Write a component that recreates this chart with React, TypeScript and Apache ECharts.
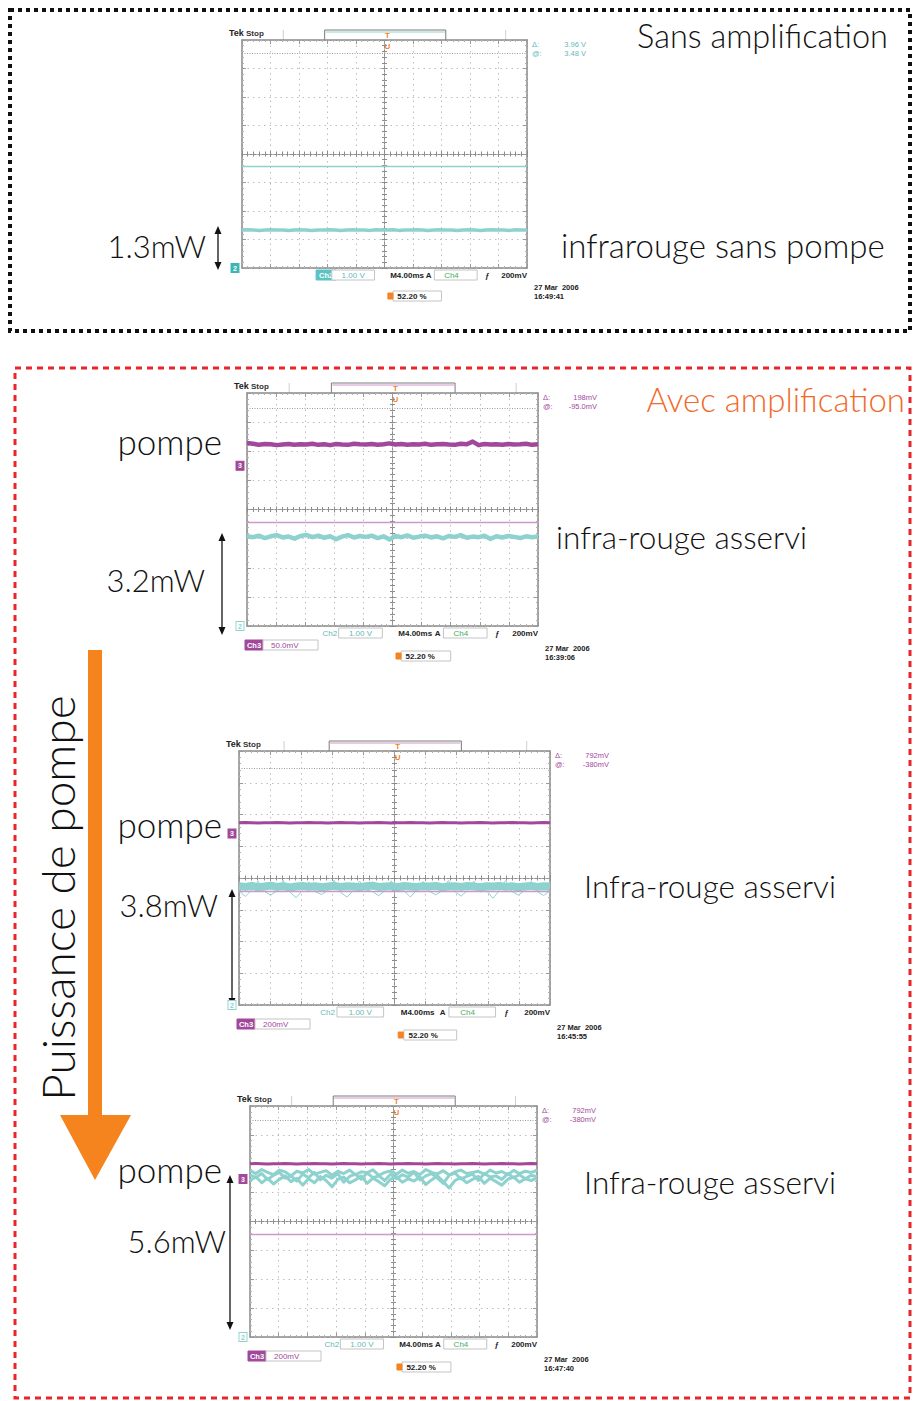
import React, { useEffect, useRef } from "react";
import * as echarts from "echarts";

// ---------- data (in screen divisions, 0 = bottom of the screen) ----------
const ch2Scope1 = [1.33,1.34,1.33,1.32,1.33,1.34,1.33,1.33,1.32,1.33,1.34,1.33,1.32,1.33,1.33,1.34,1.33,1.32,1.33,1.34,1.33,1.33,1.32,1.34,1.33,1.33,1.34,1.32,1.33,1.33,1.34,1.33,1.32,1.33,1.34,1.33,1.33,1.32,1.33,1.34,1.33,1.32,1.33,1.34,1.33,1.33,1.32,1.34,1.33,1.33];

const ch3Scope2 = [6.28,6.26,6.22,6.25,6.24,6.21,6.23,6.25,6.22,6.24,6.23,6.26,6.22,6.24,6.21,6.25,6.23,6.22,6.26,6.24,6.23,6.25,6.22,6.24,6.27,6.23,6.25,6.22,6.24,6.23,6.26,6.22,6.24,6.25,6.23,6.22,6.26,6.24,6.33,6.21,6.25,6.23,6.24,6.22,6.25,6.23,6.24,6.26,6.22,6.24];
const ch2Scope2 = [3.08,3.05,3.1,3.02,3.08,3.12,3.04,3.07,3.0,3.09,3.13,3.05,3.1,3.03,3.08,2.98,3.07,3.12,3.04,3.09,3.06,3.1,3.02,3.08,2.97,3.09,3.05,3.11,3.03,3.07,3.1,3.04,3.08,3.01,3.09,3.06,3.12,3.03,3.07,3.05,3.1,2.99,3.08,3.04,3.09,3.06,3.02,3.08,3.05,3.07];

const ch3Scope3 = [5.74,5.75,5.74,5.73,5.74,5.74,5.75,5.74,5.73,5.74,5.74,5.75,5.74,5.74,5.73,5.74,5.75,5.74,5.74,5.73,5.74,5.74,5.75,5.74,5.73,5.74,5.74,5.75,5.74,5.74,5.73,5.74,5.75,5.74,5.74,5.73,5.74,5.74,5.75,5.74,5.73,5.74,5.74,5.75,5.74,5.74,5.73,5.74,5.75,5.74];
const ch2Scope3 = [3.74,3.72,3.75,3.71,3.73,3.76,3.72,3.74,3.7,3.73,3.75,3.72,3.74,3.71,3.73,3.75,3.72,3.74,3.73,3.71,3.74,3.76,3.72,3.73,3.74,3.71,3.75,3.73,3.72,3.74,3.73,3.75,3.71,3.73,3.74,3.72,3.75,3.73,3.71,3.74,3.73,3.75,3.72,3.74,3.71,3.73,3.75,3.72,3.74,3.73];
const ch2Scope3Fringe = [3.6,3.42,3.62,3.9,3.58,3.46,3.6,3.92,3.56,3.38,3.61,3.88,3.57,3.48,3.6,3.93,3.55,3.4,3.6,3.9,3.62,3.58,3.44,3.6,3.91,3.57,3.6,3.4,3.62,3.89,3.58,3.47,3.6,3.92,3.57,3.43,3.61,3.9,3.56,3.6,3.36,3.6,3.92,3.58,3.46,3.6,3.89,3.57,3.45,3.6];

const ch3Scope4 = [6.0,6.01,6.0,5.99,6.0,6.0,6.01,6.0,5.99,6.0,6.0,6.01,6.0,6.0,5.99,6.0,6.01,6.0,6.0,5.99,6.0,6.0,6.01,6.0,5.99,6.0,6.0,6.01,6.0,6.0,5.99,6.0,6.01,6.0,6.0,5.99,6.0,6.0,6.01,6.0,5.99,6.0,6.0,6.01,6.0,6.0,5.99,6.0,6.01,6.0];
const ch2Scope4a = [5.62,5.52,5.66,5.45,5.6,5.7,5.5,5.58,5.4,5.64,5.52,5.7,5.44,5.6,5.5,5.66,5.36,5.56,5.64,5.46,5.68,5.52,5.58,5.42,5.64,5.48,5.62,5.54,5.7,5.44,5.58,5.66,5.5,5.32,5.6,5.68,5.47,5.56,5.64,5.42,5.66,5.54,5.58,5.46,5.66,5.52,5.62,5.48,5.6,5.55];
const ch2Scope4b = [5.42,5.55,5.34,5.5,5.3,5.46,5.58,5.38,5.5,5.26,5.48,5.34,5.56,5.42,5.2,5.46,5.54,5.34,5.44,5.58,5.32,5.5,5.38,5.24,5.46,5.56,5.36,5.48,5.4,5.54,5.28,5.44,5.58,5.38,5.16,5.42,5.52,5.34,5.46,5.56,5.32,5.5,5.38,5.26,5.46,5.54,5.36,5.48,5.42,5.5];
const ch2Scope4c = [5.76,5.66,5.8,5.7,5.62,5.78,5.72,5.58,5.74,5.68,5.8,5.64,5.7,5.76,5.6,5.74,5.66,5.78,5.62,5.72,5.69,5.79,5.6,5.7,5.75,5.64,5.78,5.67,5.73,5.62,5.8,5.7,5.65,5.76,5.61,5.72,5.78,5.66,5.7,5.74,5.63,5.78,5.68,5.73,5.62,5.77,5.66,5.74,5.7,5.76];

const cursorSolid = [3.58, 3.55, 3.59, 3.56];
const cursorDotted = [7.54, 7.49, 7.46, 7.5];
const ch3Ground = [null, 5.5, 5.4, 5.47];
const deltaReadout = ["3.96 V", "198mV", "792mV", "792mV"];
const atReadout = ["3.48 V", "-95.0mV", "-380mV", "-380mV"];
const ch3Scale = [null, "50.0mV", "200mV", "200mV"];
const timestamps = ["16:49:41", "16:39:06", "16:45:55", "16:47:40"];
const powerLabels = ["1.3mW", "3.2mW", "3.8mW", "5.6mW"];
const signalLabels = ["infrarouge sans pompe", "infra-rouge asservi", "Infra-rouge asservi", "Infra-rouge asservi"];

// ---------- layout ----------
const screens = [
  [242, 40, 285, 228],
  [247, 393, 291, 233],
  [239, 751, 311, 254],
  [250, 1106, 287, 231],
];
const CYAN = "#8ed2cf";
const CYAN_TXT = "#5fb9bb";
const MAG = "#a2489b";
const MAG_LIGHT = "#cf98ca";
const ORANGE = "#f5841f";
const GREEN = "#3fae5a";
const FONT = '"Lato", "Open Sans", sans-serif';
const SMALL = '"Liberation Sans", Arial, sans-serif';

function buildOption() {
  const grid: any[] = [];
  const xAxis: any[] = [];
  const yAxis: any[] = [];
  const series: any[] = [];
  const graphic: any[] = [];

  const cats = ch2Scope1.map((_, i) => i);

  screens.forEach(([l, t, w, h], i) => {
    grid.push({ left: l, top: t, width: w, height: h, show: false });
    const common = { gridIndex: i, type: "value", axisLabel: { show: false }, axisPointer: { show: false } };
    const borderLine = { onZero: false, lineStyle: { color: "#8a8a8a", width: 1.5 } };
    const centerLine = { onZero: false, lineStyle: { color: "#8c8c8c", width: 1, type: [2, 2] } };
    const tickIn = { show: true, inside: true, length: 4, lineStyle: { color: "#9a9a9a" } };
    const tickOut = { show: true, inside: false, length: 3, lineStyle: { color: "#8c8c8c" } };
    const minorIn = { show: true, splitNumber: 5, length: 2, lineStyle: { color: "#b0b0b0" } };
    const minorOut = { show: true, splitNumber: 5, length: 2.5, lineStyle: { color: "#8c8c8c" } };
    const dotted = { show: true, lineStyle: { color: "#bdbdbd", width: 1, type: [1.5, 4] } };
    xAxis.push({ gridIndex: i, type: "category", boundaryGap: false, data: cats, show: false, position: "bottom" });
    xAxis.push({ ...common, min: 0, max: 10, interval: 1, position: "bottom", axisLine: borderLine, axisTick: tickIn, minorTick: minorIn, splitLine: dotted });
    xAxis.push({ ...common, min: 0, max: 10, interval: 1, position: "top", axisLine: borderLine, axisTick: tickIn, minorTick: minorIn, splitLine: { show: false } });
    xAxis.push({ ...common, min: 0, max: 10, interval: 1, position: "bottom", offset: -h / 2, axisLine: centerLine, axisTick: tickOut, minorTick: minorOut, splitLine: { show: false } });
    xAxis.push({ ...common, min: 0, max: 10, interval: 1, position: "top", offset: -h / 2, axisLine: centerLine, axisTick: tickOut, minorTick: minorOut, splitLine: { show: false } });
    yAxis.push({ ...common, min: 0, max: 8, interval: 1, position: "left", axisLine: borderLine, axisTick: tickIn, minorTick: minorIn, splitLine: dotted });
    yAxis.push({ ...common, min: 0, max: 8, interval: 1, position: "right", axisLine: borderLine, axisTick: tickIn, minorTick: minorIn, splitLine: { show: false } });
    yAxis.push({ ...common, min: 0, max: 8, interval: 1, position: "left", offset: -w / 2, axisLine: centerLine, axisTick: tickOut, minorTick: minorOut, splitLine: { show: false } });
    yAxis.push({ ...common, min: 0, max: 8, interval: 1, position: "right", offset: -w / 2, axisLine: centerLine, axisTick: tickOut, minorTick: minorOut, splitLine: { show: false } });
  });

  const trace = (i: number, data: number[], color: string, width: number, extra: any = {}) => ({
    type: "line",
    xAxisIndex: i * 5,
    yAxisIndex: i * 4,
    data,
    showSymbol: false,
    symbol: "none",
    silent: true,
    lineStyle: { color, width, join: "round" },
    z: 3,
    ...extra,
  });
  const cursors = (i: number) => ({
    silent: true,
    symbol: "none",
    label: { show: false },
    data: [
      { yAxis: cursorSolid[i], lineStyle: { color: i === 0 ? CYAN : MAG_LIGHT, width: 1.3, type: "solid" } },
      { yAxis: cursorDotted[i], lineStyle: { color: "#9c9c9c", width: 1, type: [1, 1.5] } },
    ],
  });
  const groundMark = (ch: string, level: number, filled: boolean, color: string) => ({
    coord: [0, level],
    symbol: "rect",
    symbolSize: [8, 9],
    symbolOffset: [-7, 0],
    itemStyle: { color: filled ? color : "#fff", borderColor: color, borderWidth: 1 },
    label: { show: true, formatter: ch, color: filled ? "#fff" : color, fontSize: 7, fontWeight: "bold", fontFamily: SMALL },
  });
  const ch2Marker = (i: number) => ({ silent: true, data: [groundMark("2", 0, i === 0, i === 0 ? "#3fb5b5" : CYAN)] });
  const ch3Marker = (i: number) => ({ silent: true, data: [groundMark("3", ch3Ground[i] as number, true, MAG)] });

  series.push(trace(0, ch2Scope1, CYAN, 3.5, { markLine: cursors(0), markPoint: ch2Marker(0) }));
  series.push(trace(1, ch2Scope2, CYAN, 4.5, { markLine: cursors(1), markPoint: ch2Marker(1) }));
  series.push(trace(1, ch3Scope2, MAG, 4.5, { markPoint: ch3Marker(1) }));
  series.push(trace(2, ch2Scope3Fringe, CYAN, 1, { markLine: cursors(2), markPoint: ch2Marker(2) }));
  series.push(trace(2, ch2Scope3, CYAN, 8));
  series.push(trace(2, ch3Scope3, MAG, 3, { markPoint: ch3Marker(2) }));
  series.push(trace(3, ch2Scope4b, CYAN, 3, { markLine: cursors(3), markPoint: ch2Marker(3) }));
  series.push(trace(3, ch2Scope4a, CYAN, 3));
  series.push(trace(3, ch2Scope4c, CYAN, 3));
  series.push(trace(3, ch3Scope4, MAG, 3, { markPoint: ch3Marker(3) }));

  // ---------- oscilloscope chrome ----------
  const txt = (x: number, y: number, text: string, fill: string, size = 8, weight = "bold", align = "left") => ({
    type: "text", x, y, silent: true,
    style: { text, fill, fontSize: size, fontWeight: weight, fontFamily: SMALL, align, verticalAlign: "middle" },
  });
  const box = (x: number, y: number, bw: number, bh: number, fill = "#fff", stroke = "#c4c4c4") => ({
    type: "rect", silent: true, shape: { x, y, width: bw, height: bh }, style: { fill, stroke, lineWidth: 1 },
  });

  screens.forEach(([l, t, w, h], i) => {
    const rc = i === 0 ? CYAN_TXT : MAG;
    const tcol = i === 0 ? CYAN : MAG_LIGHT;
    graphic.push(txt(l - 13, t - 7, "Tek", "#222", 9, "bold"));
    graphic.push(txt(l + 4, t - 7, "Stop", "#333", 8, "bold"));
    [0.145, 0.925].forEach((f) =>
      graphic.push({ type: "line", silent: true, shape: { x1: l + f * w, y1: t - 10, x2: l + f * w, y2: t }, style: { stroke: "#cfcfcf", lineWidth: 1 } })
    );
    const bx1 = l + 0.29 * w, bx2 = l + 0.715 * w;
    graphic.push({ type: "polyline", silent: true, shape: { points: [[bx1, t], [bx1, t - 10], [bx2, t - 10], [bx2, t]] }, style: { stroke: "#7a7a7a", fill: null, lineWidth: 1 } });
    graphic.push({ type: "line", silent: true, shape: { x1: bx1 + 1, y1: t - 8, x2: bx2 - 1, y2: t - 8 }, style: { stroke: tcol, lineWidth: 1 } });
    const tx = l + 0.51 * w;
    graphic.push(txt(tx, t - 5, "T", ORANGE, 8, "bold", "center"));
    graphic.push(txt(tx, t + 6, "U", ORANGE, 8, "bold", "center"));
    graphic.push(txt(l + w + 5, t + 4, "Δ:", rc, 7.5, "normal"));
    graphic.push(txt(l + w + 59, t + 4, deltaReadout[i], rc, 7.5, "normal", "right"));
    graphic.push(txt(l + w + 5, t + 13, "@:", rc, 7.5, "normal"));
    graphic.push(txt(l + w + 59, t + 13, atReadout[i], rc, 7.5, "normal", "right"));
    const by = t + h + 7;
    if (i === 0) {
      graphic.push(box(l + 0.26 * w, by - 5, 0.07 * w, 10, "#5cc2c2", "#5cc2c2"));
      graphic.push(txt(l + 0.295 * w, by, "Ch2", "#fff", 7.5, "bold", "center"));
    } else {
      graphic.push(txt(l + 0.285 * w, by, "Ch2", CYAN_TXT, 8, "normal", "center"));
    }
    graphic.push(box(l + 0.315 * w, by - 5, 0.15 * w, 10));
    graphic.push(txt(l + 0.39 * w, by, "1.00 V", CYAN_TXT, 8, "normal", "center"));
    graphic.push(txt(l + 0.52 * w, by, "M4.00ms", "#222", 8, "bold"));
    graphic.push(txt(l + 0.655 * w, by, "A", "#222", 8, "bold", "center"));
    graphic.push(box(l + 0.675 * w, by - 5, 0.15 * w, 10));
    graphic.push(txt(l + 0.735 * w, by, "Ch4", GREEN, 8, "normal", "center"));
    graphic.push(txt(l + 0.86 * w, by, "ƒ", "#222", 8, "bold", "center"));
    graphic.push(txt(l + w, by, "200mV", "#222", 8, "bold", "right"));
    if (ch3Scale[i]) {
      const cy = t + h + 19;
      graphic.push(box(l - 2, cy - 5, 18, 10, MAG, MAG));
      graphic.push(txt(l + 7, cy, "Ch3", "#fff", 7.5, "bold", "center"));
      graphic.push(box(l + 16, cy - 5, 55, 10));
      graphic.push(txt(l + 24, cy, ch3Scale[i] as string, MAG, 8, "normal"));
    }
    const py = t + h + (i === 0 ? 28 : 30);
    graphic.push(box(l + 0.53 * w, py - 5, 0.17 * w, 10));
    graphic.push(box(l + 0.512 * w, py - 3, 5, 6, ORANGE, ORANGE));
    graphic.push(txt(l + 0.545 * w, py, "52.20 %", "#222", 8, "bold"));
    const dy = t + h + (i === 0 ? 19 : 22);
    graphic.push(txt(l + w + 7, dy, "27 Mar  2006", "#222", 7.5, "bold"));
    graphic.push(txt(l + w + 7, dy + 9, timestamps[i], "#222", 7.5, "bold"));
  });

  // ---------- frames ----------
  graphic.push({ type: "rect", silent: true, shape: { x: 10, y: 10, width: 900, height: 321 }, style: { fill: null, stroke: "#111", lineWidth: 4, lineDash: [4, 4] } });
  graphic.push({ type: "rect", silent: true, shape: { x: 15, y: 368, width: 895, height: 1030 }, style: { fill: null, stroke: "#e8262a", lineWidth: 3, lineDash: [6, 5] } });

  // ---------- annotations ----------
  const big = (x: number, y: number, text: string, size: number, align: string, fill = "#111") => ({
    type: "text", x, y, silent: true,
    style: { text, fill, fontSize: size, fontFamily: FONT, fontWeight: 300, align, verticalAlign: "middle" },
  });
  graphic.push(big(888, 35, "Sans amplification", 32.5, "right"));
  graphic.push(big(905, 399, "Avec amplification", 33, "right", "#f26a2a"));
  graphic.push(big(561, 245, signalLabels[0], 33, "left"));
  graphic.push(big(556, 537, signalLabels[1], 31.5, "left"));
  graphic.push(big(584, 886, signalLabels[2], 31.5, "left"));
  graphic.push(big(584, 1182, signalLabels[3], 31.5, "left"));
  [441, 824, 1169].forEach((y) => graphic.push(big(222, y, "pompe", 35, "right")));
  const powerPos = [[206, 246], [205, 580], [218, 905], [226, 1241]];
  powerLabels.forEach((s, i) => graphic.push(big(powerPos[i][0], powerPos[i][1], s, 31, "right")));

  const arrows = [[218, 226, 270], [222, 533, 635], [232, 889, 1006], [230, 1175, 1330]];
  arrows.forEach(([x, y1, y2]) => {
    graphic.push({ type: "line", silent: true, shape: { x1: x, y1: y1 + 4, x2: x, y2: y2 - 4 }, style: { stroke: "#111", lineWidth: 1.3 } });
    graphic.push({ type: "polygon", silent: true, shape: { points: [[x - 3.5, y1 + 8], [x + 3.5, y1 + 8], [x, y1]] }, style: { fill: "#111" } });
    graphic.push({ type: "polygon", silent: true, shape: { points: [[x - 3.5, y2 - 8], [x + 3.5, y2 - 8], [x, y2]] }, style: { fill: "#111" } });
  });

  // orange pump-power arrow
  graphic.push({ type: "rect", silent: true, shape: { x: 88, y: 650, width: 14, height: 468 }, style: { fill: ORANGE } });
  graphic.push({ type: "polygon", silent: true, shape: { points: [[60, 1115], [131, 1115], [95, 1180]] }, style: { fill: ORANGE } });
  graphic.push({
    type: "text", silent: true, x: 57, y: 898, rotation: Math.PI / 2,
    style: { text: "Puissance de pompe", fill: "#111", fontSize: 46, fontFamily: FONT, fontWeight: 300, align: "center", verticalAlign: "middle" },
  });

  return {
    animation: false,
    backgroundColor: "#ffffff",
    grid,
    xAxis,
    yAxis,
    series,
    graphic,
  };
}

export default function App() {
  const ref = useRef<HTMLDivElement>(null);
  useEffect(() => {
    if (!ref.current) return;
    const chart = echarts.init(ref.current, null, { renderer: "svg" });
    chart.setOption(buildOption() as any);
    return () => chart.dispose();
  }, []);
  return <div ref={ref} style={{ position: "absolute", left: 0, top: 0, width: 913, height: 1401, background: "#fff" }} />;
}
